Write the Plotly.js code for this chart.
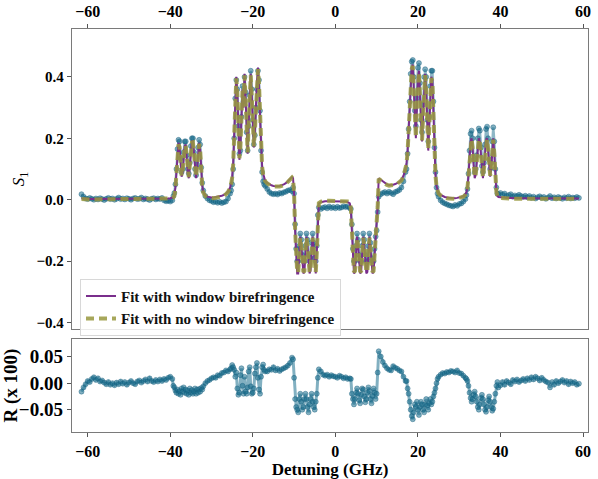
<!DOCTYPE html>
<html>
<head>
<meta charset="utf-8">
<script src="https://cdn.plot.ly/plotly-3.0.1.min.js"></script>
<style>
body { margin: 0; background: #fff; }
#graph { width: 598px; height: 479px; }
</style>
</head>
<body>
<div id="graph"></div>
<script>
// detuning grid (GHz), finer where the spectrum has structure
var detuning = [
    -61.5, -61, -60.5, -60, -59.5, -59, -58.5, -58, -57.5, -57, -56.5, -56, -55.5, -55, -54.5,
    -54, -53.5, -53, -52.5, -52, -51.5, -51, -50.5, -50, -49.5, -49, -48.5, -48, -47.5, -47,
    -46.5, -46, -45.5, -45, -44.5, -44, -43.5, -43, -42.5, -42, -41.5, -41, -40.5, -40, -39.5,
    -39.25, -39, -38.75, -38.5, -38.25, -38, -37.75, -37.5, -37.25, -37, -36.75, -36.5, -36.25, -36, -35.75,
    -35.5, -35.25, -35, -34.75, -34.5, -34.25, -34, -33.75, -33.5, -33.25, -33, -32.75, -32.5, -32.25, -32,
    -31.5, -31, -30.5, -30, -29.5, -29, -28.5, -28, -27.5, -27, -26.5, -26, -25.5,
    -25.25, -25, -24.75, -24.5, -24.25, -24, -23.75, -23.5, -23.25, -23, -22.75, -22.5, -22.25, -22, -21.75,
    -21.5, -21.25, -21, -20.75, -20.5, -20.25, -20, -19.75, -19.5, -19.25, -19, -18.75, -18.5, -18.25, -18,
    -17.75, -17.5, -17.25, -17,
    -16.5, -16, -15.5, -15, -14.5, -14, -13.5, -13, -12.5, -12, -11.5, -11, -10.5,
    -10.25, -10, -9.75, -9.5, -9.25, -9, -8.75, -8.5, -8.25, -8, -7.75, -7.5, -7.25, -7, -6.75,
    -6.5, -6.25, -6, -5.75, -5.5, -5.25, -5, -4.75, -4.5, -4.25, -4,
    -3.5, -3, -2.5, -2, -1.5, -1, -0.5, 0, 0.5, 1, 1.5, 2, 2.5, 3, 3.5,
    3.75, 4, 4.25, 4.5, 4.75, 5, 5.25, 5.5, 5.75, 6, 6.25, 6.5, 6.75, 7, 7.25,
    7.5, 7.75, 8, 8.25, 8.5, 8.75, 9, 9.25, 9.5, 9.75, 10, 10.25, 10.5,
    11, 11.5, 12, 12.5, 13, 13.5, 14, 14.5, 15, 15.5, 16, 16.5, 17,
    17.25, 17.5, 17.75, 18, 18.25, 18.5, 18.75, 19, 19.25, 19.5, 19.75, 20, 20.25, 20.5, 20.75,
    21, 21.25, 21.5, 21.75, 22, 22.25, 22.5, 22.75, 23, 23.25, 23.5, 23.75, 24, 24.25, 24.5,
    24.75, 25,
    25.5, 26, 26.5, 27, 27.5, 28, 28.5, 29, 29.5, 30, 30.5, 31, 31.5,
    31.75, 32, 32.25, 32.5, 32.75, 33, 33.25, 33.5, 33.75, 34, 34.25, 34.5, 34.75, 35, 35.25,
    35.5, 35.75, 36, 36.25, 36.5, 36.75, 37, 37.25, 37.5, 37.75, 38, 38.25, 38.5, 38.75, 39, 39.25,
    39.5, 40, 40.5, 41, 41.5, 42, 42.5, 43, 43.5, 44, 44.5, 45, 45.5, 46, 46.5, 47, 47.5, 48, 48.5, 49,
    49.5, 50, 50.5, 51, 51.5, 52, 52.5, 53, 53.5, 54, 54.5, 55, 55.5, 56, 56.5, 57, 57.5, 58, 58.5, 59
];

// measured S1
var s1Data = [
    0.018, 0.010, 0.004, 0.002, 0.006, 0.003, 0.000, 0.004, 0.001, 0.005, 0.002, -0.001, 0.003, 0.006, 0.002,
    0.004, 0.000, 0.003, 0.007, 0.002, 0.004, 0.001, 0.005, 0.003, 0.000, 0.004, 0.006, 0.002, 0.003, 0.007,
    0.001, 0.004, 0.002, -0.001, 0.003, 0.005, 0.001, 0.004, 0.002, 0.006, -0.002, -0.005, -0.003, -0.006, -0.002,
    0.012, 0.022, 0.05, 0.1, 0.165, 0.195, 0.19, 0.135, 0.09, 0.1, 0.155, 0.19, 0.19, 0.145, 0.1,
    0.085, 0.12, 0.175, 0.2, 0.2, 0.155, 0.1, 0.08, 0.115, 0.17, 0.195, 0.18, 0.105, 0.055, 0.03,
    0.012, 0.004, -0.002, -0.004, -0.008, -0.006, -0.01, -0.007, -0.011, -0.008, -0.006, 0.004, 0.02,
    0.03, 0.05, 0.1, 0.2, 0.33, 0.39, 0.36, 0.24, 0.15, 0.16, 0.27, 0.37, 0.32, 0.4, 0.35,
    0.22, 0.16, 0.24, 0.34, 0.42, 0.36, 0.26, 0.18, 0.21, 0.3, 0.36, 0.42, 0.39, 0.29, 0.16,
    0.09, 0.06, 0.05, 0.045,
    0.035, 0.025, 0.02, 0.018, 0.02, 0.017, 0.022, 0.02, 0.024, 0.026, 0.03, 0.032, 0.028,
    0.04, 0.02, -0.08, -0.16, -0.2, -0.2, -0.15, -0.11, -0.13, -0.18, -0.2, -0.2, -0.15, -0.11, -0.13,
    -0.18, -0.2, -0.19, -0.14, -0.11, -0.14, -0.19, -0.2, -0.15, -0.05, -0.025,
    -0.03, -0.026, -0.024, -0.028, -0.022, -0.027, -0.024, -0.028, -0.023, -0.027, -0.025, -0.021, -0.024, -0.022, -0.027,
    -0.03, -0.08, -0.16, -0.2, -0.2, -0.15, -0.11, -0.13, -0.18, -0.2, -0.2, -0.15, -0.11, -0.13, -0.18,
    -0.2, -0.2, -0.15, -0.11, -0.14, -0.19, -0.2, -0.2, -0.16, -0.12, -0.1, -0.04, 0.01,
    0.018, 0.022, 0.025, 0.02, 0.026, 0.022, 0.018, 0.025, 0.028, 0.032, 0.04, 0.06, 0.09,
    0.1, 0.15, 0.23, 0.32, 0.41, 0.45, 0.455, 0.4, 0.29, 0.24, 0.33, 0.43, 0.445, 0.38, 0.26,
    0.22, 0.31, 0.4, 0.425, 0.4, 0.26, 0.19, 0.27, 0.37, 0.42, 0.42, 0.32, 0.17, 0.09, 0.04,
    0.02, 0.01,
    -0.002, -0.008, -0.012, -0.015, -0.018, -0.02, -0.022, -0.017, -0.02, -0.014, -0.012, -0.006, 0.002,
    0.015, 0.035, 0.085, 0.16, 0.215, 0.225, 0.2, 0.13, 0.09, 0.1, 0.145, 0.2, 0.232, 0.225, 0.17,
    0.11, 0.09, 0.12, 0.18, 0.23, 0.238, 0.2, 0.13, 0.1, 0.12, 0.19, 0.236, 0.19, 0.1, 0.04, 0.02,
    0.018, 0.022, 0.016, 0.02, 0.012, 0.015, 0.018, 0.01, 0.014, 0.011, 0.016, 0.012, 0.009, 0.013, 0.008, 0.012, 0.006, 0.01, 0.004, 0.008,
    0.011, 0.006, 0.009, 0.003, 0.007, 0.012, 0.005, 0.008, 0.004, 0.009, 0.006, 0.003, 0.008, 0.005, 0.01, 0.004, 0.007, 0.005, 0.009, 0.006
];

// fit with window birefringence
var fitWindow = [
    0.004, 0.003, 0.003, 0.002, 0.002, 0.002, 0.002, 0.002, 0.002, 0.002, 0.002, 0.002, 0.002, 0.002, 0.002,
    0.002, 0.002, 0.002, 0.002, 0.002, 0.002, 0.002, 0.002, 0.002, 0.002, 0.002, 0.002, 0.002, 0.002, 0.002,
    0.002, 0.002, 0.002, 0.002, 0.003, 0.003, 0.003, 0.003, 0.003, 0.003, 0.004, 0.004, 0.004, 0.005, 0.006,
    0.008, 0.015, 0.04, 0.09, 0.15, 0.185, 0.175, 0.12, 0.075, 0.09, 0.14, 0.175, 0.18, 0.13, 0.085,
    0.07, 0.11, 0.16, 0.19, 0.19, 0.14, 0.085, 0.07, 0.1, 0.155, 0.185, 0.165, 0.09, 0.045, 0.025,
    0.015, 0.01, 0.008, 0.007, 0.007, 0.008, 0.009, 0.011, 0.013, 0.016, 0.02, 0.028, 0.04,
    0.055, 0.075, 0.12, 0.22, 0.34, 0.4, 0.35, 0.22, 0.13, 0.17, 0.28, 0.36, 0.3, 0.41, 0.33,
    0.2, 0.15, 0.25, 0.35, 0.41, 0.34, 0.24, 0.17, 0.22, 0.32, 0.38, 0.43, 0.38, 0.27, 0.17,
    0.11, 0.085, 0.07, 0.062,
    0.055, 0.05, 0.047, 0.045, 0.044, 0.044, 0.045, 0.047, 0.05, 0.054, 0.06, 0.067, 0.074,
    0.07, 0.02, -0.1, -0.2, -0.24, -0.24, -0.18, -0.12, -0.15, -0.21, -0.24, -0.235, -0.17, -0.12, -0.15,
    -0.21, -0.24, -0.23, -0.16, -0.12, -0.16, -0.22, -0.24, -0.17, -0.05, -0.012,
    -0.008, -0.006, -0.005, -0.005, -0.005, -0.005, -0.005, -0.005, -0.005, -0.005, -0.005, -0.005, -0.006, -0.008, -0.012,
    -0.03, -0.1, -0.2, -0.24, -0.235, -0.17, -0.12, -0.15, -0.21, -0.24, -0.235, -0.17, -0.12, -0.15, -0.21,
    -0.24, -0.235, -0.17, -0.12, -0.16, -0.22, -0.24, -0.235, -0.18, -0.13, -0.1, -0.02, 0.07,
    0.065, 0.058, 0.053, 0.05, 0.048, 0.048, 0.049, 0.051, 0.054, 0.058, 0.065, 0.078, 0.1,
    0.12, 0.16, 0.22, 0.3, 0.38, 0.43, 0.44, 0.36, 0.24, 0.2, 0.3, 0.4, 0.42, 0.34, 0.22,
    0.19, 0.27, 0.37, 0.41, 0.36, 0.22, 0.16, 0.24, 0.34, 0.4, 0.39, 0.28, 0.15, 0.08, 0.045,
    0.03, 0.022,
    0.016, 0.012, 0.009, 0.007, 0.006, 0.005, 0.005, 0.005, 0.006, 0.007, 0.009, 0.012, 0.018,
    0.025, 0.04, 0.08, 0.14, 0.19, 0.2, 0.17, 0.11, 0.07, 0.08, 0.12, 0.17, 0.2, 0.19, 0.14,
    0.09, 0.07, 0.1, 0.15, 0.195, 0.2, 0.16, 0.1, 0.075, 0.1, 0.16, 0.2, 0.15, 0.07, 0.025, 0.012,
    0.009, 0.008, 0.007, 0.007, 0.006, 0.006, 0.006, 0.005, 0.005, 0.005, 0.005, 0.005, 0.005, 0.004, 0.004, 0.004, 0.004, 0.004, 0.004, 0.004,
    0.004, 0.004, 0.004, 0.004, 0.004, 0.004, 0.004, 0.004, 0.004, 0.004, 0.004, 0.004, 0.004, 0.004, 0.004, 0.004, 0.004, 0.004, 0.004, 0.004
];

// fit with no window birefringence
var fitNoWindow = [
    0.002, 0.001, 0.001, 0.001, 0.001, 0.001, 0.001, 0.001, 0.001, 0.001, 0.001, 0.001, 0.001, 0.001, 0.001,
    0.001, 0.001, 0.001, 0.001, 0.001, 0.001, 0.001, 0.001, 0.001, 0.001, 0.001, 0.001, 0.001, 0.001, 0.001,
    0.001, 0.001, 0.001, 0.001, 0.001, 0.002, 0.002, 0.002, 0.002, 0.002, 0.003, 0.003, 0.003, 0.004, 0.005,
    0.007, 0.013, 0.036, 0.085, 0.145, 0.18, 0.172, 0.118, 0.078, 0.094, 0.142, 0.172, 0.176, 0.128, 0.088,
    0.074, 0.112, 0.158, 0.186, 0.187, 0.138, 0.088, 0.074, 0.103, 0.152, 0.182, 0.162, 0.088, 0.043, 0.023,
    0.012, 0.008, 0.006, 0.005, 0.005, 0.006, 0.007, 0.009, 0.011, 0.014, 0.018, 0.026, 0.038,
    0.052, 0.072, 0.116, 0.215, 0.335, 0.395, 0.348, 0.222, 0.135, 0.172, 0.278, 0.355, 0.302, 0.405, 0.328,
    0.202, 0.154, 0.248, 0.346, 0.405, 0.338, 0.242, 0.174, 0.222, 0.318, 0.376, 0.425, 0.378, 0.268, 0.168,
    0.108, 0.083, 0.068, 0.06,
    0.053, 0.048, 0.045, 0.043, 0.042, 0.042, 0.043, 0.045, 0.048, 0.052, 0.058, 0.065, 0.072,
    0.068, 0.018, -0.097, -0.196, -0.236, -0.237, -0.182, -0.124, -0.148, -0.206, -0.236, -0.232, -0.172, -0.124, -0.148,
    -0.206, -0.236, -0.228, -0.163, -0.124, -0.158, -0.216, -0.237, -0.172, -0.052, -0.011,
    -0.006, -0.004, -0.003, -0.003, -0.003, -0.003, -0.003, -0.003, -0.003, -0.003, -0.003, -0.003, -0.004, -0.006, -0.01,
    -0.028, -0.097, -0.196, -0.236, -0.232, -0.172, -0.124, -0.148, -0.206, -0.236, -0.232, -0.172, -0.124, -0.148, -0.206,
    -0.236, -0.232, -0.172, -0.124, -0.158, -0.216, -0.236, -0.232, -0.182, -0.133, -0.102, -0.022, 0.068,
    0.063, 0.056, 0.051, 0.048, 0.046, 0.046, 0.047, 0.049, 0.052, 0.056, 0.063, 0.076, 0.098,
    0.118, 0.157, 0.216, 0.296, 0.375, 0.425, 0.436, 0.358, 0.242, 0.203, 0.298, 0.396, 0.416, 0.338, 0.222,
    0.193, 0.268, 0.366, 0.406, 0.358, 0.222, 0.163, 0.238, 0.336, 0.396, 0.386, 0.278, 0.15, 0.079, 0.044,
    0.028, 0.02,
    0.014, 0.01, 0.007, 0.005, 0.004, 0.003, 0.003, 0.003, 0.004, 0.005, 0.007, 0.01, 0.016,
    0.023, 0.038, 0.077, 0.136, 0.186, 0.197, 0.168, 0.112, 0.073, 0.083, 0.122, 0.168, 0.197, 0.188, 0.142,
    0.093, 0.073, 0.102, 0.148, 0.192, 0.197, 0.162, 0.103, 0.078, 0.102, 0.158, 0.196, 0.152, 0.072, 0.026, 0.011,
    0.007, 0.006, 0.005, 0.005, 0.004, 0.004, 0.004, 0.003, 0.003, 0.003, 0.003, 0.003, 0.003, 0.003, 0.003, 0.003, 0.003, 0.003, 0.003, 0.003,
    0.003, 0.003, 0.003, 0.003, 0.003, 0.003, 0.003, 0.003, 0.003, 0.003, 0.003, 0.003, 0.003, 0.003, 0.003, 0.003, 0.003, 0.003, 0.003, 0.003
];

// residual R (x 100)
var residual = [
    -0.016, -0.008, -0.002, 0.004, 0.002, 0.008, 0.011, 0.006, 0.009, 0.003, 0.005, 0.001, -0.002, 0.002, -0.003,
    0.000, -0.004, 0.001, -0.002, 0.003, -0.001, 0.002, -0.003, 0.001, 0.004, 0.000, -0.002, 0.003, 0.005, 0.001,
    0.004, 0.007, 0.003, 0.009, 0.004, 0.002, 0.006, 0.003, 0.007, 0.004, 0.008, 0.006, 0.010, 0.012, 0.008,
    -0.005, -0.008, -0.014, -0.018, -0.012, -0.02, -0.015, -0.022, -0.01, -0.016, -0.008, -0.018, -0.012, -0.02, -0.014,
    -0.022, -0.01, -0.018, -0.013, -0.02, -0.016, -0.01, -0.02, -0.012, -0.018, -0.011, -0.016, -0.009, -0.012, -0.006,
    0.0, 0.004, 0.006, 0.009, 0.011, 0.01, 0.015, 0.014, 0.019, 0.02, 0.024, 0.022, 0.026,
    0.028, 0.034, 0.03, 0.025, 0.012, 0.02, -0.01, -0.022, -0.018, 0.015, 0.028, -0.005, -0.02, 0.012, -0.016,
    -0.02, -0.008, 0.022, 0.03, -0.006, -0.02, -0.018, -0.01, 0.018, 0.03, 0.038, 0.01, -0.012, -0.02, 0.012,
    0.03, 0.035, 0.025, 0.022,
    0.022, 0.026, 0.025, 0.03, 0.024, 0.027, 0.023, 0.026, 0.028, 0.03, 0.033, 0.038, 0.048,
    0.045, 0.01, -0.03, -0.045, -0.05, -0.055, -0.03, -0.02, -0.035, -0.05, -0.045, -0.03, -0.02, -0.03, -0.045,
    -0.055, -0.04, -0.03, -0.02, -0.035, -0.045, -0.05, -0.035, -0.02, 0.01, 0.026,
    0.022, 0.016, 0.014, 0.016, 0.012, 0.015, 0.013, 0.012, 0.01, 0.014, 0.012, 0.009, 0.011, 0.008, 0.009,
    0.008, -0.02, -0.03, -0.04, -0.03, -0.018, -0.01, -0.02, -0.032, -0.038, -0.022, -0.01, -0.012, -0.025, -0.036,
    -0.03, -0.018, -0.008, -0.015, -0.03, -0.038, -0.024, -0.01, -0.018, -0.03, -0.02, 0.02, 0.06,
    0.05, 0.04, 0.033, 0.028, 0.025, 0.024, 0.032, 0.029, 0.027, 0.024, 0.022, 0.012, 0.004,
    0.004, -0.01, -0.02, -0.035, -0.05, -0.062, -0.068, -0.055, -0.04, -0.045, -0.035, -0.05, -0.06, -0.045, -0.035,
    -0.04, -0.05, -0.055, -0.04, -0.03, -0.042, -0.05, -0.038, -0.03, -0.04, -0.035, -0.025, -0.018, -0.01, 0.0,
    0.008, 0.012,
    0.016, 0.019, 0.018, 0.021, 0.02, 0.023, 0.022, 0.02, 0.024, 0.019, 0.018, 0.014, 0.01,
    0.008, 0.004, -0.005, -0.018, -0.028, -0.035, -0.03, -0.022, -0.016, -0.025, -0.035, -0.045, -0.05, -0.04, -0.028,
    -0.022, -0.03, -0.04, -0.05, -0.054, -0.045, -0.032, -0.025, -0.035, -0.045, -0.052, -0.048, -0.035, -0.02, -0.005, 0.002,
    -0.008, -0.004, 0.002, -0.003, 0.004, 0.001, -0.002, 0.006, 0.003, 0.007, 0.002, 0.005, 0.008, 0.004, 0.009, 0.006, 0.011, 0.007, 0.012, 0.009,
    0.005, 0.01, 0.006, 0.003, 0.001, -0.008, 0.002, -0.003, 0.004, 0.0, 0.003, 0.006, 0.001, 0.004, -0.002, 0.003, 0.0, 0.002, -0.003, -0.001
];

var xTicks = [-60, -40, -20, 0, 20, 40, 60];
var s1Ticks = [-0.4, -0.2, 0.0, 0.2, 0.4];
var rTicks = [-0.05, 0.0, 0.05];

var serif = "Liberation Serif, Times New Roman, serif";
var dotColor = "rgba(27,112,142,0.55)";
var dotEdge = "rgba(20,92,122,0.7)";

function frame(extra) {
    var ax = {
        showline: true,
        linecolor: "#7a7a7a",
        linewidth: 1.3,
        mirror: true,
        ticks: "outside",
        ticklen: 4,
        tickwidth: 1,
        tickcolor: "#555",
        showgrid: false,
        zeroline: false,
        automargin: false
    };
    for (var k in extra) {
        ax[k] = extra[k];
    }
    return ax;
}

function drawGraph() {
    var measured = {
        x: detuning,
        y: s1Data,
        type: "scatter",
        mode: "lines+markers",
        line: {color: "rgba(27,112,142,0.5)", width: 2.5},
        marker: {size: 5, color: dotColor, line: {width: 0.6, color: dotEdge}},
        showlegend: false,
        hoverinfo: "skip"
    };
    var withWindow = {
        x: detuning,
        y: fitWindow,
        type: "scatter",
        mode: "lines",
        line: {color: "#7a2e8c", width: 2},
        name: "Fit with window birefringence"
    };
    var noWindow = {
        x: detuning,
        y: fitNoWindow,
        type: "scatter",
        mode: "lines",
        line: {color: "rgba(152,152,62,0.85)", width: 4, dash: "8px,5px"},
        name: "Fit with no window birefringence"
    };
    var resid = {
        x: detuning,
        y: residual,
        xaxis: "x2",
        yaxis: "y2",
        type: "scatter",
        mode: "lines+markers",
        line: {color: "rgba(27,112,142,0.55)", width: 3},
        marker: {size: 5, color: dotColor, line: {width: 0.6, color: dotEdge}},
        showlegend: false,
        hoverinfo: "skip"
    };

    var layout = {
        width: 598,
        height: 479,
        margin: {l: 72, r: 10, t: 29, b: 47},
        paper_bgcolor: "#fff",
        plot_bgcolor: "#fff",
        font: {family: serif, color: "#000"},
        xaxis: frame({
            anchor: "y",
            side: "top",
            range: [-63.8, 61.2],
            tickvals: xTicks,
            tickfont: {family: serif, size: 16, weight: "bold"}
        }),
        yaxis: frame({
            domain: [0.2556, 1],
            range: [-0.421, 0.556],
            tickvals: s1Ticks,
            tickformat: ".1f",
            tickfont: {family: serif, size: 15, weight: "bold"},
            title: {text: "<i>S</i><sub>1</sub>", font: {family: serif, size: 17}, standoff: 7}
        }),
        xaxis2: frame({
            anchor: "y2",
            matches: "x",
            range: [-63.8, 61.2],
            tickvals: xTicks,
            tickfont: {family: serif, size: 16, weight: "bold"},
            title: {text: "Detuning (GHz)", font: {family: serif, size: 17, weight: "bold"}, standoff: 4}
        }),
        yaxis2: frame({
            domain: [0, 0.23],
            range: [-0.092, 0.0825],
            tickvals: rTicks,
            tickformat: ".2f",
            tickfont: {family: serif, size: 19, weight: "bold"},
            title: {text: "R (x 100)", font: {family: serif, size: 19, weight: "bold"}, standoff: 3}
        }),
        legend: {
            x: 0.0155,
            y: 0.38,
            xanchor: "left",
            yanchor: "top",
            bgcolor: "rgba(255,255,255,0.85)",
            bordercolor: "#d8d8d8",
            borderwidth: 1,
            itemwidth: 30,
            tracegroupgap: 0,
            font: {family: serif, size: 15, weight: "bold", color: "#111"}
        }
    };

    Plotly.newPlot("graph", [measured, withWindow, noWindow, resid], layout, {displayModeBar: false, staticPlot: true});
}
drawGraph();
</script>
</body>
</html>
